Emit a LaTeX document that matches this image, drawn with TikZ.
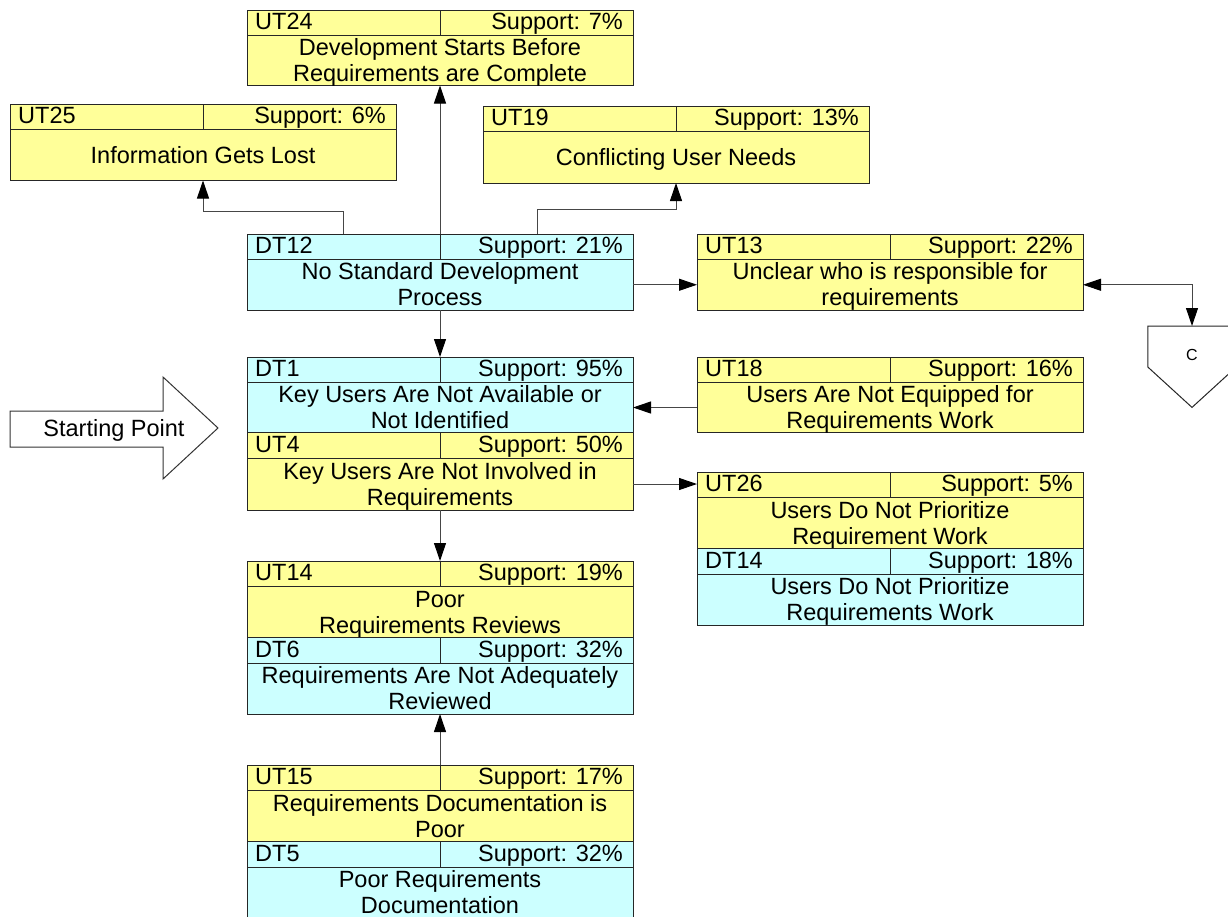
\documentclass[tikz,border=0pt]{standalone}
\usepackage{fontspec}
\setmainfont{Liberation Sans}
\usetikzlibrary{arrows.meta,calc}

\definecolor{cardyellow}{RGB}{255,255,153}
\definecolor{cardcyan}{RGB}{204,255,255}
\definecolor{linkgray}{RGB}{70,70,70}

\tikzset{
  frame/.style={draw=black!85, line width=1pt},
  cardhead/.style={frame, minimum width=386pt, minimum height=25.5pt, inner sep=0pt, outer sep=0pt},
  cardbody/.style={frame, minimum width=386pt, inner sep=0pt, outer sep=0pt},
  hdr/.style={font=\fontsize{23.5}{26}\selectfont, inner sep=0pt},
  bodytxt/.style={font=\fontsize{23.5}{26}\selectfont, inner sep=0pt},
  tip/.style={Triangle[length=18pt,width=12pt,color=black]},
  lnk/.style={draw=linkgray, line width=1pt, -{Triangle[length=18pt,width=12pt,color=black]}},
  dbl/.style={draw=linkgray, line width=1pt, {Triangle[length=18pt,width=12pt,color=black]}-{Triangle[length=18pt,width=12pt,color=black]}},
}

% card: #1 name, #2 top-left corner, #3 fill, #4 code, #5 support, #6 body text, #7 body height
\newcommand\card[7]{%
  \node[cardhead, fill=#3, anchor=north west] (#1-h) at #2 {};
  \node[cardbody, fill=#3, anchor=north west, minimum height=#7] (#1-b) at (#1-h.south west) {};
  \draw[frame] (#1-h.north) -- (#1-h.south);
  \node[hdr, anchor=base west] (#1-id) at ($(#1-h.north west)+(8,19.5)$) {#4};
  \node[hdr, anchor=base east] (#1-sup) at ($(#1-h.north east)+(-10,19.5)$) {Support: #5\%};
  \node[bodytxt] (#1-txt) at ($(#1-b.center)+(0,3)$) {\parbox{384pt}{\centering\strut #6\strut}};
}

\begin{document}
\begin{tikzpicture}[x=1pt,y=-1pt]
  \clip (0,0) rectangle (1228,916);
  \fill[white] (0,0) rectangle (1228,916);

  % upper row
  \card{ut24}{(247,10)}{cardyellow}{UT24}{7}{Development Starts Before\\Requirements are Complete}{50}
  \card{ut25}{(10,104)}{cardyellow}{UT25}{6}{Information Gets Lost}{51}
  \card{ut19}{(483,106)}{cardyellow}{UT19}{13}{Conflicting User Needs}{51.5}
  \card{dt12}{(247,234)}{cardcyan}{DT12}{21}{No Standard Development\\Process}{50.5}
  \card{ut13}{(697,234)}{cardyellow}{UT13}{22}{Unclear who is responsible for\\requirements}{50.5}

  % core block
  \card{dt1}{(247,357)}{cardcyan}{DT1}{95}{Key Users Are Not Available or\\Not Identified}{50}
  \card{ut4}{(dt1-b.south west)}{cardyellow}{UT4}{50}{Key Users Are Not Involved in\\Requirements}{52}
  \card{ut18}{(697,357)}{cardyellow}{UT18}{16}{Users Are Not Equipped for\\Requirements Work}{50}
  \card{ut26}{(697,472)}{cardyellow}{UT26}{5}{Users Do Not Prioritize\\Requirement Work}{51}
  \card{dt14}{(ut26-b.south west)}{cardcyan}{DT14}{18}{Users Do Not Prioritize\\Requirements Work}{51}

  % lower blocks
  \card{ut14}{(247,561)}{cardyellow}{UT14}{19}{Poor\\Requirements Reviews}{51}
  \card{dt6}{(ut14-b.south west)}{cardcyan}{DT6}{32}{Requirements Are Not Adequately\\Reviewed}{51}
  \card{ut15}{(247,765)}{cardyellow}{UT15}{17}{Requirements Documentation is\\Poor}{51}
  \card{dt5}{(ut15-b.south west)}{cardcyan}{DT5}{32}{Poor Requirements\\Documentation}{51}

  % off-page connector C
  \node[minimum width=88pt, minimum height=81pt, inner sep=0pt, anchor=north] (offc) at (1192,326) {};
  \draw[frame, fill=white] (offc.north west) -- (offc.north east) -- ($(offc.north east)+(0,41)$)
        -- (offc.south) -- ($(offc.north west)+(0,41)$) -- cycle;
  \node[font=\fontsize{16}{18}\selectfont, inner sep=0pt] (offc-lbl) at (1192,355) {C};

  % starting point arrow
  \draw[frame, draw=black!80, fill=white] (10,411) -- (163,411) -- (163,377) -- (218,428)
        -- (163,479) -- (163,447) -- (10,447) -- cycle;
  \node[font=\fontsize{23.5}{26}\selectfont, inner sep=0pt, anchor=base] (start) at (114,436) {Starting Point};

  % connectors
  \draw[lnk] (dt12-h.north) -- (ut24-b.south);
  \draw[lnk] ([xshift=-97pt]dt12-h.north) -- ++(0,-23) -| (ut25-b.south);
  \draw[lnk] ([xshift=97pt]dt12-h.north) -- ++(0,-25) -| (ut19-b.south);
  \draw[lnk] (dt12-b.east) -- (ut13-b.west);
  \draw[dbl] (ut13-b.east) -| (offc.north);
  \draw[lnk] (dt12-b.south) -- (dt1-h.north);
  \draw[lnk] (ut18-b.west) -- (dt1-b.east);
  \draw[lnk] (ut4-b.east) -- (ut4-b.east -| ut26-h.west);
  \draw[lnk] (ut4-b.south) -- (ut14-h.north);
  \draw[lnk] (ut15-h.north) -- (dt6-b.south);
\end{tikzpicture}
\end{document}
